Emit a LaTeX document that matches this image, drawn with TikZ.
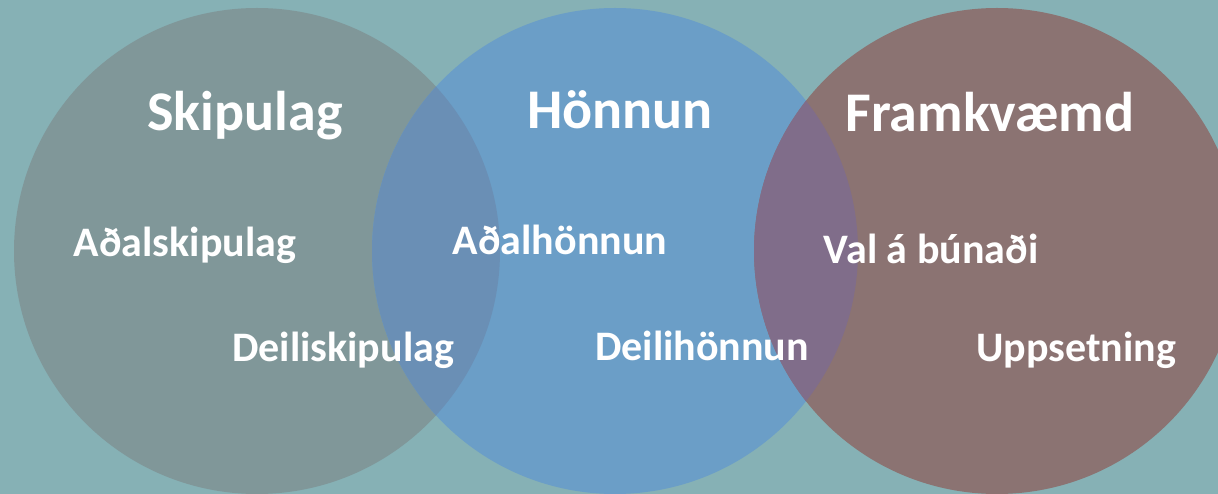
\documentclass[tikz,border=0pt]{standalone}
\usepackage{fontspec}
\setmainfont{Carlito}
\definecolor{bgc}{HTML}{86B1B5}
\definecolor{leftc}{HTML}{809799}
\definecolor{midc}{HTML}{6B9EC7}
\definecolor{rightc}{HTML}{8B7372}
\definecolor{lmc}{HTML}{6A8FB5}
\definecolor{mrc}{HTML}{806D8A}
\tikzset{
  title/.style={text=white, font=\bfseries\fontsize{56}{60}\selectfont, anchor=base, inner sep=0pt},
  item/.style={text=white, font=\bfseries\fontsize{42}{46}\selectfont, anchor=base, inner sep=0pt},
}
\begin{document}
\begin{tikzpicture}[x=1pt,y=-1pt]
\useasboundingbox (0,0) rectangle (1218,494);
\fill[bgc] (0,0) rectangle (1218,494);
% circles
\fill[leftc] (257,251) circle[radius=243];
\fill[midc] (615,251) circle[radius=243];
\fill[rightc] (997,251) circle[radius=243];
% overlaps
\begin{scope}
  \clip (257,251) circle[radius=243];
  \fill[lmc] (615,251) circle[radius=243];
\end{scope}
\begin{scope}
  \clip (615,251) circle[radius=243];
  \fill[mrc] (997,251) circle[radius=243];
\end{scope}
% titles
\node[title] (skipulag) at (245,131) {Skipulag};
\node[title] (honnun) at (620,129) {Hönnun};
\node[title] (framkvaemd) at (990,132) {Framkvæmd};
% items
\node[item] (adalskipulag) at (185,257) {Aðalskipulag};
\node[item] (adalhonnun) at (560,255) {Aðalhönnun};
\node[item] (valabunadi) at (931,264) {Val á búnaði};
\node[item] (deiliskipulag) at (343,361) {Deiliskipulag};
\node[item] (deilihonnun) at (702,360) {Deilihönnun};
\node[item] (uppsetning) at (1076,361) {Uppsetning};
\end{tikzpicture}
\end{document}
